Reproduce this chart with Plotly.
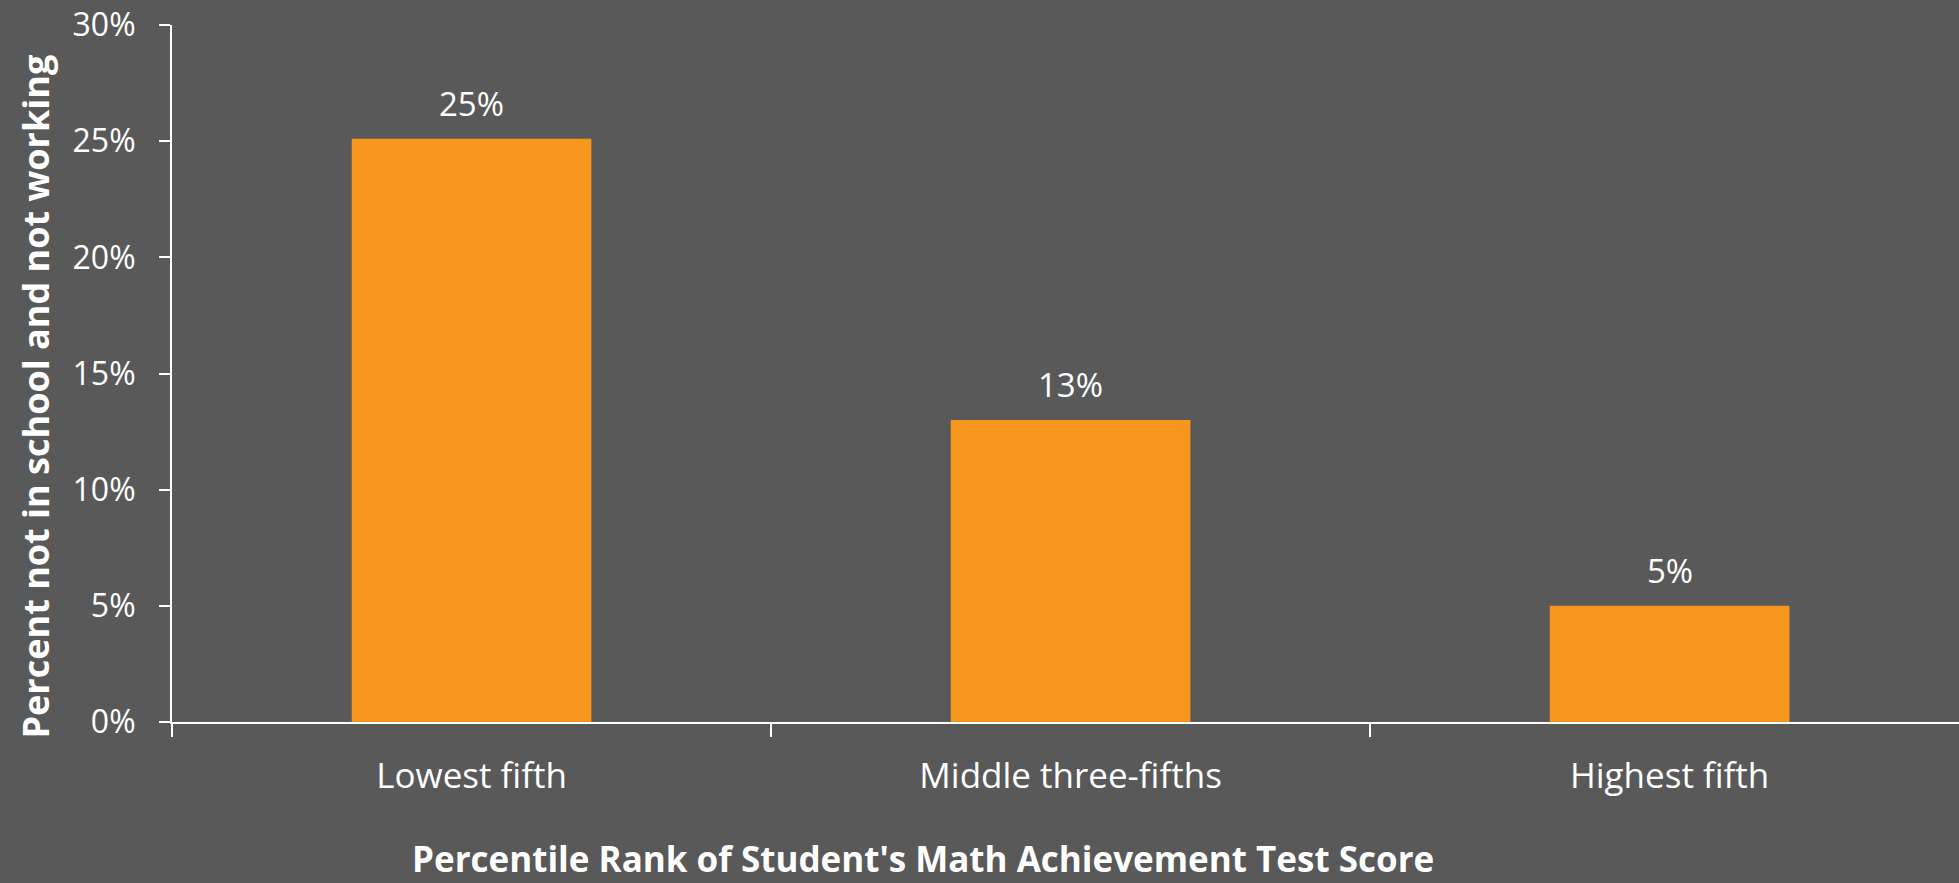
import plotly.graph_objects as go

categories = ["Lowest fifth", "Middle three-fifths", "Highest fifth"]
values = [0.251, 0.130, 0.050]
labels = ["25%", "13%", "5%"]
y_ticks = [0, 0.05, 0.10, 0.15, 0.20, 0.25, 0.30]
y_title = "Percent not in school and not working"
x_title = "Percentile Rank of Student's Math Achievement Test Score"

BG = "#595959"
FONT = "Open Sans"

fig = go.Figure()
fig.add_trace(go.Bar(
    x=categories, y=values,
    marker=dict(color="#F7961C", line=dict(width=0)),
    width=0.4,
))

for c, v, t in zip(categories, values, labels):
    fig.add_annotation(x=c, y=v, text=t, showarrow=False, yanchor="bottom",
                       yshift=11, font=dict(family=FONT, size=33, color="white"))

fig.add_annotation(xref="paper", yref="paper", x=0, y=0.467, xshift=-136,
                   xanchor="center", yanchor="middle",
                   text="<b>" + y_title + "</b>", textangle=-90, showarrow=False,
                   font=dict(family=FONT, size=36, color="white"))
fig.add_annotation(xref="paper", yref="paper", x=0.42, y=-0.231,
                   xanchor="center", yanchor="bottom", borderpad=0,
                   text="<b>" + x_title + "</b>", showarrow=False,
                   font=dict(family=FONT, size=35, color="white"))

fig.update_layout(
    width=1959, height=883,
    margin=dict(l=172, r=0, t=25, b=161),
    paper_bgcolor=BG, plot_bgcolor=BG,
    showlegend=False,
    font=dict(family=FONT, color="white", size=32),
)
fig.update_xaxes(
    type="category", range=[-0.5, 2.483],
    showline=True, linecolor="white", linewidth=2,
    ticks="outside", tickson="boundaries", ticklen=13, tickwidth=2, tickcolor="white",
    tickfont=dict(family=FONT, size=35, color="white"),
    ticklabelstandoff=22, showgrid=False, zeroline=False,
)
fig.update_yaxes(
    range=[0, 0.30], tickvals=y_ticks, tickformat=".0%",
    showline=True, linecolor="white", linewidth=2,
    ticks="outside", ticklen=11, tickwidth=2, tickcolor="white",
    tickfont=dict(family=FONT, size=32, color="white"),
    ticklabelstandoff=17, showgrid=False, zeroline=False,
)

fig.write_html("out.html")
